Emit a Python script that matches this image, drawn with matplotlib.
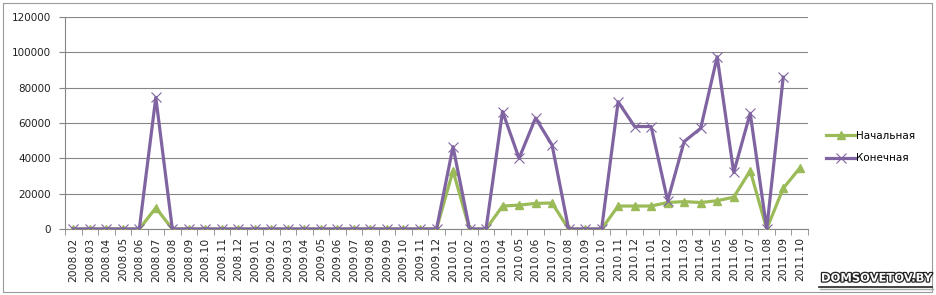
import numpy as np
import matplotlib
matplotlib.use("Agg")
import matplotlib.pyplot as plt
import matplotlib.patheffects as pe
from matplotlib.patches import Rectangle

# ------------------- DATA -------------------
months = (
    [f"2008.{m:02d}" for m in range(2, 13)]
    + [f"2009.{m:02d}" for m in range(1, 13)]
    + [f"2010.{m:02d}" for m in range(1, 13)]
    + [f"2011.{m:02d}" for m in range(1, 11)]
)

# Начальная (green)
start_vals = [
    0, 0, 0, 0, 0, 12000, 0, 0, 0, 0, 0,                      # 2008.02-2008.12
    0, 0, 0, 0, 0, 0, 0, 0, 0, 0, 0, 0,                       # 2009
    33000, 0, 0, 13000, 13500, 14500, 14700, 0, 0, 0, 13000, 13000,  # 2010
    13000, 15000, 15500, 15000, 16000, 18000, 33000, 0, 23000, 34500,  # 2011
]

# Конечная (purple), no value for 2011.10
end_vals = [
    0, 0, 0, 0, 0, 74500, 0, 0, 0, 0, 0,
    0, 0, 0, 0, 0, 0, 0, 0, 0, 0, 0, 0,
    46600, 0, 0, 66500, 40000, 62800, 47500, 0, 0, 0, 72000, 58000,
    58000, 16000, 49500, 57000, 97500, 32000, 65500, 0, 86000, np.nan,
]

series_names = ["Начальная", "Конечная"]
GREEN = "#9BBB59"
PURPLE = "#8064A2"
GRID = "#868686"

# ------------------- PLOT -------------------
fig = plt.figure(figsize=(9.36, 2.95), dpi=100)
ax = fig.add_axes([65 / 936, 66 / 295, 743 / 936, 212 / 295])

x = np.arange(len(months))
ax.plot(x, start_vals, color=GREEN, lw=2.3, marker="^", markersize=6,
        markeredgecolor=GREEN, label=series_names[0], zorder=3)
ax.plot(x, end_vals, color=PURPLE, lw=2.3, marker="x", markersize=7,
        markeredgewidth=0.8, markeredgecolor=PURPLE, label=series_names[1], zorder=4)

ax.set_xlim(-0.5, len(months) - 0.5)
ax.set_ylim(0, 120000)
ax.set_yticks(np.arange(0, 120001, 20000))
ax.set_yticklabels([str(v) for v in range(0, 120001, 20000)], fontsize=7.5,
                   color="#222222")
ax.grid(axis="y", color=GRID, lw=0.8)
ax.set_axisbelow(True)

ax.set_xticks(x)
ax.set_xticklabels(months, rotation=90, fontsize=7.7, color="#222222")
ax.set_xticks(np.arange(-0.5, len(months), 1), minor=True)
ax.tick_params(axis="x", which="major", length=0, pad=6)
ax.tick_params(axis="x", which="minor", length=4, color=GRID, direction="out")
ax.tick_params(axis="y", length=4, color=GRID, pad=6)

for side in ["top", "right"]:
    ax.spines[side].set_visible(False)
for side in ["left", "bottom"]:
    ax.spines[side].set_color(GRID)
    ax.spines[side].set_linewidth(0.8)

ax.legend(loc="center left", bbox_to_anchor=(822 / 936, 148 / 295),
          bbox_transform=fig.transFigure, frameon=False, fontsize=7.5,
          handlelength=2.8, handletextpad=0.1, labelspacing=1.2,
          borderaxespad=0)

# chart border
fig.patches.append(Rectangle((3 / 936, 3 / 295), 929 / 936, 289 / 295,
                             transform=fig.transFigure, fill=False,
                             edgecolor="#9a9a9a", lw=0.8))

# watermark
fig.text(932 / 936, 10.5 / 295, "DOMSOVETOV.BY", ha="right", va="bottom",
         fontsize=8.3, fontweight="bold", color="white",
         path_effects=[pe.withStroke(linewidth=1.8, foreground="#222222")])
fig.add_artist(plt.Line2D([819 / 936, 932 / 936], [8 / 295, 8 / 295],
                          transform=fig.transFigure, color="#222222", lw=1.2))
fig.add_artist(plt.Line2D([820 / 936, 933 / 936], [6.5 / 295, 6.5 / 295],
                          transform=fig.transFigure, color="#aaaaaa", lw=1.0))

fig.savefig("out.png", dpi=100)
